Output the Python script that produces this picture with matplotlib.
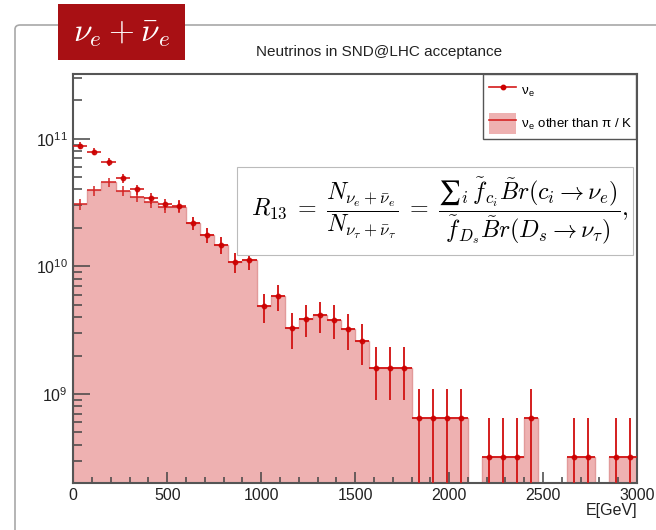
import numpy as np
import matplotlib
matplotlib.use("Agg")
import matplotlib.pyplot as plt
from matplotlib.patches import Rectangle, FancyBboxPatch, Patch
from matplotlib.lines import Line2D
from matplotlib.ticker import LogLocator, MultipleLocator, NullFormatter

plt.rcParams['font.family'] = ['Liberation Sans', 'DejaVu Sans']
plt.rcParams['mathtext.fontset'] = 'cm'

# 40 bins of 75 GeV between 0 and 3000 GeV
bin_edges = np.linspace(0, 3000, 41)

# all nu_e (red dots)
nue = [8.8e10, 7.9e10, 6.6e10, 4.9e10, 4.0e10, 3.4e10, 3.08e10, 2.98e10,
       2.19e10, 1.76e10, 1.47e10, 1.08e10, 1.13e10,
       4.87e9, 5.83e9, 3.26e9, 3.9e9, 4.14e9, 3.83e9, 3.21e9, 2.59e9,
       1.61e9, 1.61e9, 1.61e9,
       6.45e8, 6.45e8, 6.45e8, 6.45e8, 0,
       3.22e8, 3.22e8, 3.22e8, 6.45e8, 0, 0,
       3.22e8, 3.22e8, 0, 3.22e8, 3.22e8]

# nu_e not coming from pi / K (filled histogram)
nue_other = [3.08e10, 3.94e10, 4.57e10, 3.89e10, 3.51e10, 3.18e10, 2.9e10, 2.93e10,
             2.19e10, 1.76e10, 1.47e10, 1.08e10, 1.13e10,
             4.87e9, 5.83e9, 3.26e9, 3.9e9, 4.14e9, 3.83e9, 3.21e9, 2.59e9,
             1.61e9, 1.61e9, 1.61e9,
             6.45e8, 6.45e8, 6.45e8, 6.45e8, 0,
             3.22e8, 3.22e8, 3.22e8, 6.45e8, 0, 0,
             3.22e8, 3.22e8, 0, 3.22e8, 3.22e8]

# weight of one simulated event
event_weight = 3.22e8

x_ticks = [0, 500, 1000, 1500, 2000, 2500, 3000]

fig = plt.figure(figsize=(6.56, 5.30), dpi=100)

# canvas frame (slide screenshot look)
frame = FancyBboxPatch((15 / 656, -0.1), 1.2, 0.1 + 1 - 25 / 530,
                       boxstyle="round,pad=0,rounding_size=0.008",
                       transform=fig.transFigure, facecolor='none',
                       edgecolor='#a8a8a8', lw=1.2, zorder=0)
fig.patches.append(frame)

ax = fig.add_axes([73.3 / 656, 1 - 482.7 / 530, 563.7 / 656, 408.7 / 530])
ax.set_yscale('log', nonpositive='clip')

centers = 0.5 * (bin_edges[:-1] + bin_edges[1:])
half = 0.5 * np.diff(bin_edges)
base = 1e6
nue = np.array(nue)
nue_other = np.array(nue_other)

fill_col = '#eeb1b1'
ax.stairs(np.where(nue_other > 0, nue_other, base), bin_edges, baseline=base,
          fill=True, color=fill_col, zorder=1)
ax.stairs(np.where(nue_other > 0, nue_other, base), bin_edges, baseline=base,
          color='#e29a9a', lw=1.0, zorder=1.5)


def draw_errors(vals, **kw):
    m = vals > 0
    err = np.sqrt(vals[m] * event_weight)
    lo = np.minimum(err, vals[m] - base)
    return ax.errorbar(centers[m], vals[m], xerr=half[m], yerr=[lo, err],
                       linestyle='none', capsize=0, **kw)


draw_errors(nue_other, color='#d42525', alpha=0.8, elinewidth=1.4, zorder=2)
draw_errors(nue, color='#d41a1a', alpha=0.85, elinewidth=1.4, marker='o',
            markersize=3.2, mfc='#cc0000', mec='#cc0000', zorder=3)

ax.set_xlim(0, 3000)
ax.set_ylim(2.02e8, 3.21e11)

ax.set_xticks(x_ticks)
ax.xaxis.set_minor_locator(MultipleLocator(100))
ax.yaxis.set_major_locator(LogLocator(base=10))
ax.yaxis.set_minor_locator(LogLocator(base=10, subs=np.arange(2, 10)))
ax.yaxis.set_minor_formatter(NullFormatter())

ax.tick_params(axis='x', which='major', direction='in', length=8, width=1.1,
               color='#444444', labelsize=11.5, pad=4, labelcolor='#222222')
ax.tick_params(axis='x', which='minor', direction='in', length=4.3, width=1.1,
               color='#444444')
ax.tick_params(axis='y', which='major', direction='in', length=12, width=1.1,
               color='#444444', labelsize=11.5, pad=4, labelcolor='#222222')
ax.tick_params(axis='y', which='minor', direction='in', length=6.5, width=1.1,
               color='#444444')
for s in ax.spines.values():
    s.set_color('#555555')
    s.set_linewidth(1.5)

# legend
h1 = Line2D([], [], color='#d41a1a', lw=1.2, marker='o', markersize=3.2,
            mfc='#cc0000', mec='#cc0000')
h2 = (Patch(facecolor=fill_col, edgecolor='none'),
      Line2D([], [], color='#d42525', lw=1.2))
leg = ax.legend([h1, h2], ['ν$_\\mathregular{e}$', 'ν$_\\mathregular{e}$ other than π / K'],
                loc='upper left', bbox_to_anchor=(0.727, 1.0, 0.271, 0.0),
                mode='expand', fontsize=9.5, handlelength=2.1, handleheight=2.1,
                handletextpad=0.38, labelspacing=0.9, borderpad=0.42,
                borderaxespad=0, fancybox=False, framealpha=1,
                edgecolor='#555555')
leg.get_frame().set_linewidth(1.0)
leg.set_zorder(5)

# formula box
fig.patches.append(Rectangle((237 / 656, 1 - 255 / 530), 396 / 656, 88.3 / 530,
                             transform=fig.transFigure, facecolor='white',
                             edgecolor='#bbbbbb', lw=0.8, zorder=4))
fig.text(440 / 656, 1 - 211 / 530,
         r'$R_{13}\;=\;\dfrac{N_{\nu_e+\bar{\nu}_e}}{N_{\nu_\tau+\bar{\nu}_\tau}}'
         '\\;=\\;\\dfrac{\u2211_i\\, \\tilde{f}_{c_i}\\tilde{B}r(c_i \\rightarrow \\nu_e)}'
         r'{\tilde{f}_{D_s}\tilde{B}r(D_s \rightarrow \nu_\tau)},$',
         ha='center', va='center', fontsize=17.3, zorder=6)

# title and axis label
fig.text(502 / 656, 1 - 52 / 530, 'Neutrinos in SND@LHC acceptance',
         ha='right', va='center', fontsize=11, color='#222222')
fig.text(637 / 656, 1 - 510.5 / 530, 'E[GeV]', ha='right', va='center',
         fontsize=11.5, color='#222222')

# red badge
fig.patches.append(Rectangle((58 / 656, 1 - 60 / 530), 127 / 656, 56 / 530,
                             transform=fig.transFigure, facecolor='#a81014',
                             edgecolor='none', zorder=7))
fig.text(121.5 / 656, 1 - 33 / 530, r'$\nu_e + \bar{\nu}_e$', ha='center',
         va='center', fontsize=24, color='white', zorder=8)

fig.savefig('out.png', dpi=100)
